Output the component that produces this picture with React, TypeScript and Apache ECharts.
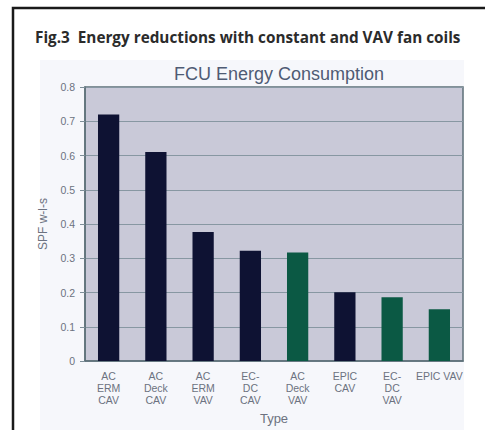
import React, { useEffect, useRef } from "react";
import * as echarts from "echarts";

const categories = [
  "AC\nERM\nCAV",
  "AC\nDeck\nCAV",
  "AC\nERM\nVAV",
  "EC-\nDC\nCAV",
  "AC\nDeck\nVAV",
  "EPIC\nCAV",
  "EC-\nDC\nVAV",
  "EPIC VAV",
];
const spfValues = [0.72, 0.61, 0.377, 0.322, 0.317, 0.201, 0.186, 0.151];
const isGreen = [false, false, false, false, true, false, true, true];
const yTicks = { min: 0, max: 0.8, interval: 0.1 };

const NAVY = "#0e1233";
const GREEN = "#0b5944";

export default function App() {
  const ref = useRef<HTMLDivElement>(null);
  useEffect(() => {
    if (!ref.current) return;
    const chart = echarts.init(ref.current, null, { renderer: "svg" });
    const lbl = "#6c7280";
    chart.setOption({
      animation: false,
      backgroundColor: "#ffffff",
      graphic: [
        { type: "rect", z: -10, shape: { x: 40, y: 60, width: 424, height: 380 }, style: { fill: "#f6f7fb" } },
        { type: "rect", z: 10, shape: { x: 13, y: 8, width: 480, height: 440 }, style: { fill: "none", stroke: "#1a1a1a", lineWidth: 2.5 } },
        {
          type: "text",
          left: 35,
          top: 29,
          style: {
            text: "Fig.3  Energy reductions with constant and VAV fan coils",
            font: "bold 15.3px 'Open Sans'",
            fill: "#2b2b2b",
          },
        },
      ],
      title: {
        text: "FCU Energy Consumption",
        left: 274,
        textAlign: "center",
        top: 60,
        textStyle: { fontFamily: "Liberation Sans", fontSize: 18, fontWeight: "normal", color: "#4f5b74" },
      },
      grid: {
        left: 85,
        right: 22,
        top: 87,
        bottom: 67,
        show: true,
        backgroundColor: "#c9c9d8",
        borderColor: "#5d7078",
        borderWidth: 1.5,
      },
      xAxis: {
        type: "category",
        data: categories,
        name: "Type",
        nameLocation: "middle",
        nameGap: 51,
        nameTextStyle: { fontFamily: "Liberation Sans", fontSize: 13, color: lbl },
        axisLine: { lineStyle: { color: "#5d7078", width: 1.5 } },
        axisTick: { show: false },
        axisLabel: {
          interval: 0,
          fontFamily: "Liberation Sans",
          fontSize: 10.5,
          lineHeight: 12,
          color: lbl,
          margin: 9,
        },
      },
      yAxis: {
        type: "value",
        min: yTicks.min,
        max: yTicks.max,
        interval: yTicks.interval,
        name: "SPF w-l-s",
        nameLocation: "middle",
        nameGap: 36,
        nameTextStyle: { fontFamily: "Liberation Sans", fontSize: 12, color: lbl },
        axisLine: { show: true, lineStyle: { color: "#5d7078", width: 1.5 } },
        axisTick: { show: true, length: 5, lineStyle: { color: "#7d8e98" } },
        axisLabel: { fontFamily: "Liberation Sans", fontSize: 10.5, color: lbl, margin: 10 },
        splitLine: { lineStyle: { color: "#8797a2", width: 1.2 } },
      },
      series: [
        {
          type: "bar",
          barWidth: "45%",
          data: spfValues.map((v, i) => ({
            value: v,
            itemStyle: { color: isGreen[i] ? GREEN : NAVY },
          })),
        },
      ],
    });
    return () => chart.dispose();
  }, []);
  return (
    <div
      ref={ref}
      style={{ position: "absolute", left: 0, top: 0, width: 485, height: 430 }}
    />
  );
}
